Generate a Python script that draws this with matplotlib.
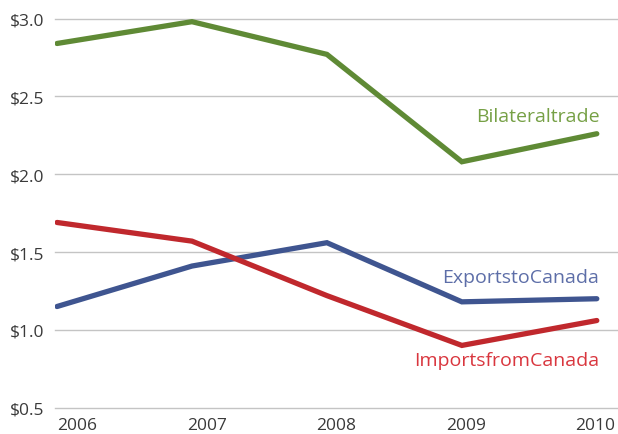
import numpy as np
import matplotlib.pyplot as plt

years = [2006, 2007, 2008, 2009, 2010]
bilateral_trade = [2.84, 2.98, 2.77, 2.08, 2.26]
exports_to_canada = [1.15, 1.41, 1.56, 1.18, 1.20]
imports_from_canada = [1.69, 1.57, 1.22, 0.90, 1.06]

series_labels = ["Bilateraltrade", "ExportstoCanada", "ImportsfromCanada"]
y_ticks = [0.5, 1.0, 1.5, 2.0, 2.5, 3.0]

plt.rcParams["font.family"] = ["Open Sans", "DejaVu Sans"]

fig = plt.figure(figsize=(6.18, 4.35), dpi=100)
ax = fig.add_axes([0.089, 0.0605, 0.909, 0.8945])

line_colors = ["#5f8a35", "#3f5590", "#c0282d"]
text_colors = ["#76a045", "#5d6ea8", "#d9363e"]
all_series = [bilateral_trade, exports_to_canada, imports_from_canada]

for vals, col in zip(all_series, line_colors):
    ax.plot(years, vals, color=col, linewidth=3.8, solid_capstyle="round",
            solid_joinstyle="miter", zorder=3)

# inline series labels, right aligned near the last year
label_pos = [2.375, 1.34, 0.805]
for lab, ypos, col in zip(series_labels, label_pos, text_colors):
    ax.text(2010.02, ypos, lab, color=col, fontsize=14, ha="right", va="center")

ax.set_xlim(2005.985, 2010.148)
ax.set_ylim(0.5, 3.0)
ax.set_yticks(y_ticks)
ax.set_yticklabels([f"${v:.1f}" for v in y_ticks])

# year labels in the original are spaced a little inside the first point
ax.set_xticks(np.linspace(2006.15, 2009.99, len(years)))
ax.set_xticklabels([str(y) for y in years])

ax.grid(axis="y", color="#c4c4c4", linewidth=1.0)
ax.set_axisbelow(True)
for gl in ax.get_ygridlines():
    gl.set_clip_on(False)

for s in ax.spines.values():
    s.set_visible(False)
ax.tick_params(length=0, labelsize=12.5, colors="#3a3a3a")
ax.tick_params(axis="y", pad=8)
ax.tick_params(axis="x", pad=6.5)

fig.savefig("out.png", dpi=100)
